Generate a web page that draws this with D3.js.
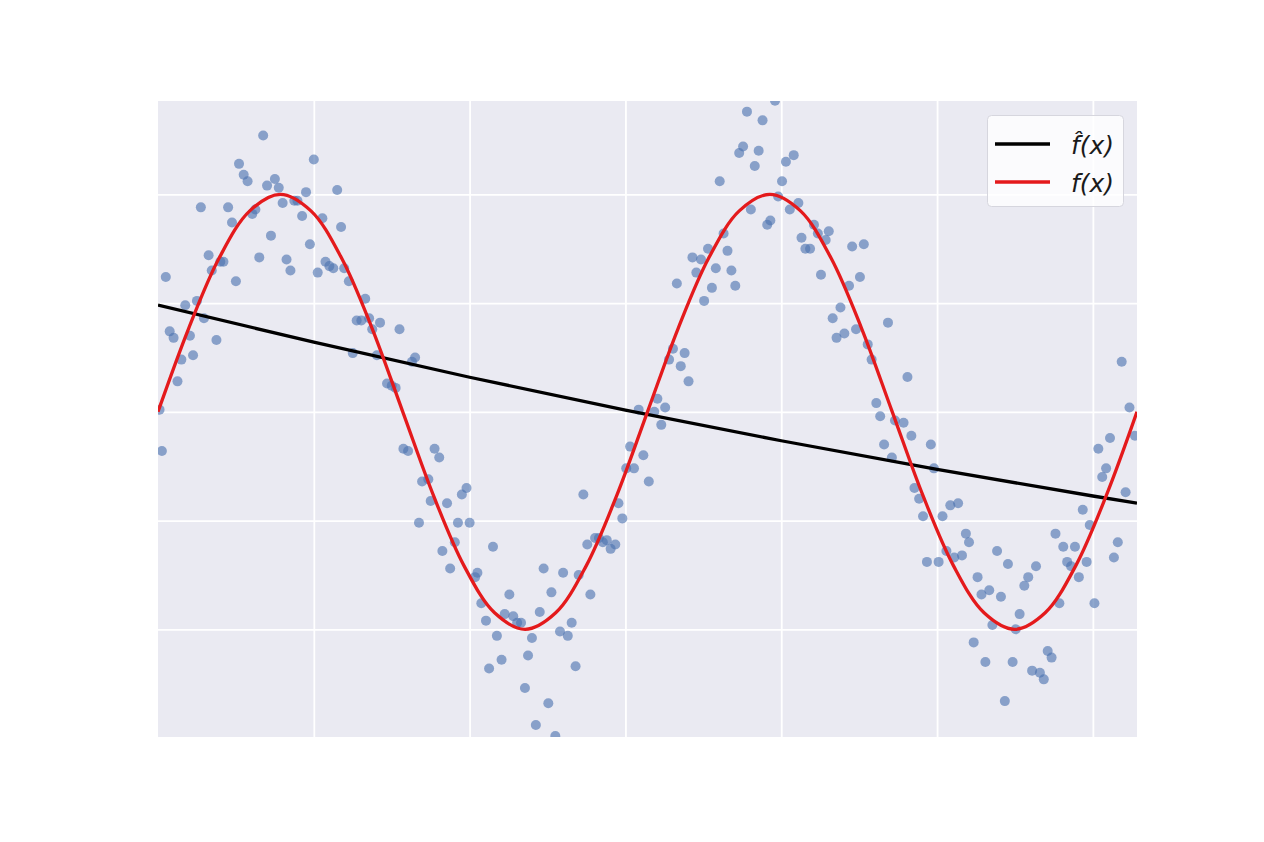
<!DOCTYPE html>
<html>
<head>
<meta charset="utf-8">
<script src="https://cdn.jsdelivr.net/npm/d3@7"></script>
<style>
  html, body { margin: 0; padding: 0; background: #ffffff; }
  svg { display: block; }
</style>
</head>
<body>
<svg id="chart" width="1264" height="842"></svg>
<script>
// ---- data ----
const xTicks = [2, 4, 6, 8, 10, 12];
const yTicks = [-1, -0.5, 0, 0.5, 1];

const scatterX = [0.02,0.05,0.10,0.15,0.20,0.25,0.30,0.35,0.41,0.45,0.50,0.55,0.59,0.65,0.69,0.75,0.80,0.84,0.90,0.95,
1.00,1.04,1.10,1.15,1.21,1.25,1.30,1.35,1.40,1.45,1.50,1.55,1.60,1.65,1.70,1.75,1.79,1.85,1.90,1.95,
2.00,2.05,2.11,2.15,2.20,2.25,2.30,2.35,2.39,2.45,2.50,2.55,2.61,2.66,2.71,2.75,2.81,2.85,2.94,3.00,
3.05,3.10,3.15,3.21,3.26,3.30,3.35,3.39,3.47,3.50,3.55,3.61,3.65,3.71,3.75,3.81,3.85,3.90,3.96,4.00,
4.07,4.10,4.15,4.21,4.25,4.30,4.35,4.41,4.45,4.51,4.56,4.61,4.66,4.71,4.75,4.80,4.85,4.90,4.95,5.01,
5.05,5.10,5.16,5.20,5.26,5.31,5.36,5.40,5.46,5.51,5.55,5.61,5.66,5.71,5.76,5.81,5.87,5.91,5.96,6.01,
6.06,6.11,6.17,6.23,6.30,6.37,6.41,6.46,6.51,6.56,6.61,6.66,6.71,6.76,6.81,6.86,6.91,6.97,7.01,7.06,
7.11,7.16,7.21,7.26,7.31,7.36,7.41,7.46,7.51,7.56,7.61,7.66,7.71,7.76,7.82,7.86,7.92,7.96,8.01,8.06,
8.11,8.16,8.22,8.26,8.31,8.37,8.42,8.47,8.51,8.57,8.61,8.66,8.71,8.76,8.81,8.87,8.91,8.96,9.01,9.06,
9.11,9.16,9.22,9.27,9.32,9.37,9.42,9.46,9.57,9.62,9.67,9.71,9.77,9.82,9.87,9.92,9.96,10.02,10.07,10.12,
10.17,10.22,10.27,10.32,10.37,10.41,10.47,10.52,10.57,10.62,10.67,10.71,10.77,10.82,10.87,10.91,10.97,11.01,11.06,11.12,
11.17,11.22,11.27,11.32,11.37,11.42,11.47,11.52,11.57,11.62,11.67,11.72,11.77,11.82,11.87,11.92,11.96,12.02,12.07,12.12,
12.17,12.22,12.27,12.32,12.37,12.42,12.47,12.54];

const scatterY = [0.01,-0.18,0.62,0.37,0.34,0.14,0.24,0.49,0.35,0.26,0.51,0.94,0.43,0.72,0.65,0.33,0.69,0.69,0.94,0.87,
0.60,1.14,1.09,1.06,0.91,0.93,0.71,1.27,1.04,0.81,1.07,1.03,0.96,0.70,0.65,0.97,0.97,0.90,1.01,0.77,
1.16,0.64,0.89,0.69,0.67,0.66,1.02,0.85,0.66,0.60,0.27,0.42,0.42,0.52,0.43,0.38,0.26,0.41,0.13,0.12,
0.11,0.38,-0.17,-0.18,0.23,0.25,-0.51,-0.32,-0.31,-0.41,-0.17,-0.21,-0.64,-0.42,-0.72,-0.60,-0.51,-0.38,-0.35,-0.51,
-0.76,-0.74,-0.88,-0.96,-1.18,-0.62,-1.03,-1.14,-0.93,-0.84,-0.94,-0.97,-0.97,-1.27,-1.12,-1.04,-1.44,-0.92,-0.72,-1.34,
-0.83,-1.49,-1.01,-0.74,-1.03,-0.97,-1.17,-0.75,-0.38,-0.61,-0.84,-0.58,-0.58,-0.60,-0.59,-0.63,-0.61,-0.42,-0.49,-0.26,
-0.16,-0.26,0.01,-0.20,-0.32,0.00,0.06,-0.06,0.02,0.24,0.29,0.59,0.21,0.27,0.14,0.71,0.64,0.70,0.51,0.75,
0.57,0.66,1.06,0.82,0.74,0.65,0.58,1.19,1.22,1.38,0.93,1.13,1.20,1.34,0.86,0.88,1.43,0.99,1.06,1.15,
0.93,1.18,0.96,0.80,0.75,0.75,0.86,0.82,0.63,0.79,0.83,0.43,0.34,0.48,0.36,0.58,0.76,0.38,0.62,0.77,
0.31,0.24,0.04,-0.02,-0.15,0.41,-0.21,-0.04,-0.05,0.16,-0.11,-0.35,-0.40,-0.48,-0.69,-0.15,-0.26,-0.69,-0.48,-0.64,
-0.43,-0.67,-0.42,-0.66,-0.56,-0.60,-1.06,-0.76,-0.84,-1.15,-0.82,-0.98,-0.64,-0.85,-1.33,-0.70,-1.15,-1.00,-0.93,-0.80,
-0.76,-1.19,-0.71,-1.20,-1.23,-1.10,-1.13,-0.56,-0.88,-0.62,-0.69,-0.71,-0.62,-0.76,-0.45,-0.69,-0.52,-0.88,-0.17,-0.30,
-0.26,-0.12,-0.67,-0.60,0.23,-0.37,0.02,-0.11];

// true function f(x), read at steps of pi/8
const trueX = [0,0.393,0.785,1.178,1.571,1.963,2.356,2.749,3.142,3.534,3.927,4.320,4.712,5.105,5.498,5.890,
6.283,6.676,7.069,7.461,7.854,8.247,8.639,9.032,9.425,9.817,10.210,10.603,10.996,11.388,11.781,12.174,12.566];
const trueY = [0,0.383,0.707,0.924,1,0.924,0.707,0.383,0,-0.383,-0.707,-0.924,-1,-0.924,-0.707,-0.383,
0,0.383,0.707,0.924,1,0.924,0.707,0.383,0,-0.383,-0.707,-0.924,-1,-0.924,-0.707,-0.383,0];

// fitted model f-hat(x)
const fitX = [0, 2, 4, 6, 8, 10, 12, 12.566];
const fitY = [0.491, 0.320, 0.159, 0.008, -0.133, -0.265, -0.387, -0.420];

const legendLabels = ["f\u0302(x)", "f(x)"];
const legendColors = ["#000000", "#e41a1c"];

// ---- layout ----
const svg = d3.select("#chart");
const L = 158, T = 101, W = 979, H = 636;

const x = d3.scaleLinear().domain([0, 4 * Math.PI]).range([L, L + W]);
const y = d3.scaleLinear().domain([-1.495, 1.429]).range([T + H, T]);

svg.append("rect").attr("x", 0).attr("y", 0).attr("width", 1264).attr("height", 842).attr("fill", "#ffffff");

svg.append("defs").append("clipPath").attr("id", "clip")
  .append("rect").attr("x", L).attr("y", T).attr("width", W).attr("height", H);

svg.append("rect").attr("x", L).attr("y", T).attr("width", W).attr("height", H).attr("fill", "#eaeaf2");

// gridlines via axes
const gx = svg.append("g").attr("transform", `translate(0,${T + H})`)
  .call(d3.axisBottom(x).tickValues(xTicks).tickSize(-H).tickFormat(""));
const gy = svg.append("g").attr("transform", `translate(${L},0)`)
  .call(d3.axisLeft(y).tickValues(yTicks).tickSize(-W).tickFormat(""));
[gx, gy].forEach(g => {
  g.select(".domain").remove();
  g.selectAll(".tick line").attr("stroke", "#ffffff").attr("stroke-width", 1.8);
});

const plot = svg.append("g").attr("clip-path", "url(#clip)");

const pts = scatterX.map((v, i) => ({ x: v, y: scatterY[i] }));
plot.selectAll("circle").data(pts).enter().append("circle")
  .attr("cx", d => x(d.x)).attr("cy", d => y(d.y)).attr("r", 5)
  .attr("fill", "#4c72b0").attr("fill-opacity", 0.62);

const line = d3.line().x(d => x(d[0])).y(d => y(d[1]));

plot.append("path")
  .attr("d", line.curve(d3.curveMonotoneX)(fitX.map((v, i) => [v, fitY[i]])))
  .attr("fill", "none").attr("stroke", legendColors[0]).attr("stroke-width", 3.3);

plot.append("path")
  .attr("d", line.curve(d3.curveCatmullRom.alpha(0.5))(trueX.map((v, i) => [v, trueY[i]])))
  .attr("fill", "none").attr("stroke", legendColors[1]).attr("stroke-width", 3.3);

// legend
const lg = svg.append("g");
lg.append("rect").attr("x", 987.5).attr("y", 115.5).attr("width", 136).attr("height", 91)
  .attr("rx", 4).attr("fill", "#ffffff").attr("fill-opacity", 0.8)
  .attr("stroke", "#d6d6de").attr("stroke-width", 1);

const rowsY = [144, 182];
rowsY.forEach((ry, i) => {
  lg.append("line").attr("x1", 995).attr("x2", 1050).attr("y1", ry).attr("y2", ry)
    .attr("stroke", legendColors[i]).attr("stroke-width", 3.6);
  lg.append("text").attr("x", 1071).attr("y", ry + 10)
    .attr("font-family", "DejaVu Sans").attr("font-style", "italic")
    .attr("font-size", 25).attr("fill", "#1a1a1a")
    .text(legendLabels[i]);
});
</script>
</body>
</html>
